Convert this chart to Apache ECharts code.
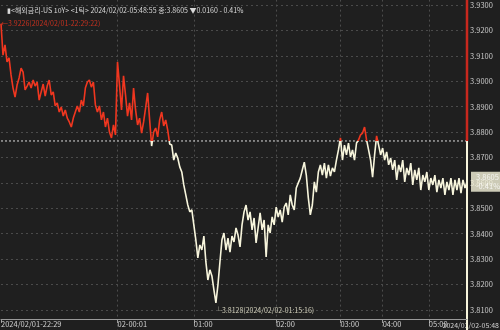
<!DOCTYPE html>
<html>
<head>
<meta charset="utf-8">
<script src="https://cdn.jsdelivr.net/npm/echarts@6/dist/echarts.min.js"></script>
<style>
html,body{margin:0;padding:0;background:#1f1f1f;}
#c{width:500px;height:330px;}
</style>
</head>
<body>
<div id="c"></div>
<script>
// ---- data ----
var prices = [
3.9226,3.9103,3.9143,3.9076,3.9092,3.9025,3.8973,3.8938,3.8985,3.9013,
3.9052,3.9036,3.8966,3.8981,3.8997,3.8973,3.9005,3.8981,3.8997,3.8926,
3.8958,3.8989,3.8942,3.8981,3.9005,3.8946,3.8958,3.8903,3.8915,3.8879,
3.8899,3.8863,3.8887,3.8855,3.8840,3.8820,3.8855,3.8879,3.8903,3.8879,
3.8926,3.8903,3.8973,3.8997,3.9005,3.8977,3.8997,3.8907,3.8879,3.8903,
3.8848,3.8879,3.8820,3.8855,3.8800,3.8777,3.8828,3.8789,3.9076,3.8985,
3.8887,3.9021,3.8946,3.8863,3.8915,3.8848,3.8973,3.8887,3.8828,3.8855,
3.8796,3.8840,3.8895,3.8954,3.8848,3.8745,3.8800,3.8816,3.8781,3.8848,
3.8879,3.8824,3.8848,3.8808,3.8753,3.8749,3.8690,3.8718,3.8698,3.8663,
3.8643,3.8592,3.8553,3.8513,3.8486,3.8494,3.8435,3.8376,3.8305,3.8356,
3.8336,3.8391,3.8289,3.8218,3.8258,3.8234,3.8179,3.8128,3.8199,3.8289,
3.8376,3.8403,3.8336,3.8383,3.8328,3.8391,3.8368,3.8423,3.8395,3.8348,
3.8435,3.8486,3.8513,3.8454,3.8486,3.8415,3.8462,3.8364,3.8423,3.8482,
3.8415,3.8454,3.8309,3.8435,3.8403,3.8466,3.8435,3.8505,3.8466,3.8494,
3.8446,3.8505,3.8521,3.8474,3.8553,3.8513,3.8494,3.8580,3.8600,3.8619,
3.8651,3.8682,3.8631,3.8541,3.8474,3.8513,3.8604,3.8564,3.8643,3.8671,
3.8631,3.8678,3.8619,3.8671,3.8627,3.8659,3.8643,3.8690,3.8730,3.8777,
3.8690,3.8749,3.8710,3.8757,3.8702,3.8730,3.8690,3.8757,3.8769,3.8789,
3.8796,3.8820,3.8769,3.8730,3.8690,3.8623,3.8710,3.8785,3.8749,3.8710,
3.8737,3.8690,3.8722,3.8671,3.8698,3.8651,3.8690,3.8612,3.8671,3.8643,
3.8690,3.8604,3.8659,3.8631,3.8678,3.8592,3.8651,3.8612,3.8659,3.8572,
3.8631,3.8604,3.8643,3.8572,3.8619,3.8592,3.8631,3.8564,3.8612,3.8580,
3.8619,3.8553,3.8604,3.8572,3.8619,3.8553,3.8612,3.8572,3.8619,3.8560,
3.8612,3.8580,3.8605
];
var prevClose = 3.8765;
var tickIndex = [0, 58, 96, 137, 169, 190, 213];
var tickLabels = ['2024/02/01-22:29', '02-00:01', '01:00', '02:00', '03:00', '04:00', '05:00'];
var endLabel = '2024/02/02-05:48';
var titleText = '▮<해외금리-US 10Y> <1틱> 2024/02/02-05:48:55 종:3.8605 ▼0.0160 - 0.41%';
var maxText = '3.9226(2024/02/01-22:29:22)';
var minText = '3.8128(2024/02/02-01:15:16)';
var lastText = '3.8605';
var lastPct = '-0.41%';

// ---- chart ----
var RED = '#f0361f', CREAM = '#f7f5dc';
var NARROW = 'Liberation Sans Narrow, Noto Sans CJK KR, sans-serif';
var cats = prices.map(function (_, i) { return i; });
var lastIdx = prices.length - 1;
var pMax = Math.max.apply(null, prices), pMin = Math.min.apply(null, prices);
var maxIdx = prices.indexOf(pMax), minIdx = prices.indexOf(pMin);
// split point of the line colour (fraction of the line's own bounding box, top = max)
var f = (pMax - prevClose) / (pMax - pMin);
var lineGrad = new echarts.graphic.LinearGradient(0, 0, 0, 1, [
  {offset: 0, color: RED}, {offset: f, color: RED},
  {offset: f, color: CREAM}, {offset: 1, color: CREAM}
]);
var chart = echarts.init(document.getElementById('c'), null, {renderer: 'canvas'});
function isTick(i) { return tickIndex.indexOf(i) >= 0; }

chart.setOption({
  backgroundColor: '#1f1f1f',
  animation: false,
  title: {
    text: titleText, left: 2, top: 2,
    textStyle: {color: '#d8d8d8', fontSize: 7, fontWeight: 'normal', fontFamily: NARROW}
  },
  grid: {left: 1, right: 33, top: -20.4, bottom: -5.4, containLabel: false, outerBoundsMode: 'none'},
  xAxis: {
    type: 'category', data: cats, boundaryGap: false, offset: -16.4,
    axisLine: {lineStyle: {color: '#9a9a9a', width: 1}},
    axisTick: {show: true, interval: function (i) { return isTick(i); }, length: 4, lineStyle: {color: '#9a9a9a'}},
    axisLabel: {
      interval: function (i) { return isTick(i); },
      formatter: function (v) { var k = tickIndex.indexOf(Number(v)); return k >= 0 ? tickLabels[k] : ''; },
      align: 'left', margin: 1, color: '#d0d0d0', fontSize: 7.5, fontFamily: NARROW, hideOverlap: false
    },
    splitLine: {show: true, interval: function (i) { return isTick(i) && i > 0; }, lineStyle: {color: '#4c4c4c', type: [2, 3]}}
  },
  yAxis: {
    type: 'value', position: 'right', min: 3.80, max: 3.94, interval: 0.01,
    axisLine: {show: true, lineStyle: {color: CREAM, width: 2}},
    axisTick: {show: false},
    axisLabel: {
      margin: 3, color: '#c8c8c8', fontSize: 7.5, fontFamily: NARROW,
      formatter: function (v) { return v.toFixed(4); }
    },
    splitLine: {show: true, lineStyle: {color: '#4a4a4a', type: [2, 3]}}
  },
  series: [
    {type: 'line', data: prices, symbol: 'none', lineStyle: {width: 1.6, color: lineGrad}, z: 3},
    {type: 'line', data: prices.map(function () { return prevClose; }), symbol: 'none', silent: true,
     lineStyle: {color: '#e0e0e0', type: [2, 2], width: 1}, z: 2},
    {type: 'line', data: [[lastIdx, prevClose], [lastIdx, 3.94]], symbol: 'none', silent: true,
     lineStyle: {color: '#c8281e', width: 2.5}, z: 4},
    {type: 'scatter', symbolSize: 0, silent: true, z: 5,
     data: [
       {value: [maxIdx, pMax],
        label: {show: true, position: 'right', distance: 0, formatter: '←' + maxText,
                color: RED, fontSize: 7, fontFamily: NARROW}},
       {value: [minIdx, pMin],
        label: {show: true, position: 'right', distance: 0, offset: [-1, 7], formatter: '└' + minText,
                color: CREAM, fontSize: 7, fontFamily: NARROW}},
       {value: [lastIdx, prices[lastIdx]],
        label: {show: true, position: 'right', distance: 4, formatter: lastText + '\n' + lastPct,
                color: '#ffffff', fontSize: 7.5, lineHeight: 9, backgroundColor: CREAM,
                padding: [1, 4, 1, 5], fontFamily: NARROW}}
     ]}
  ],
  graphic: [{
    type: 'text', right: 1, bottom: 1,
    style: {text: endLabel, fill: '#d0d0d0', fontSize: 7, fontFamily: NARROW}
  }]
});
</script>
</body>
</html>
